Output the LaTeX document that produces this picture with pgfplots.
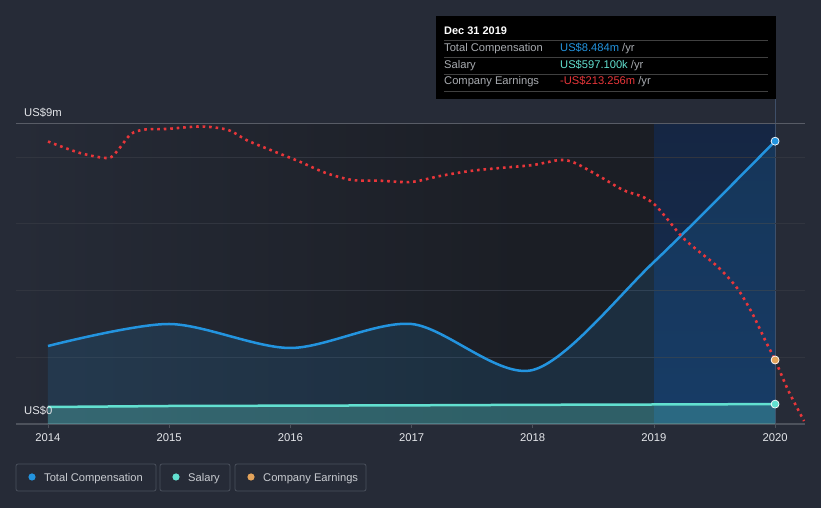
\documentclass[border=0pt]{standalone}
\usepackage{pgfplots}
\pgfplotsset{compat=1.18}
\usepackage{fontspec}
\setmainfont{Liberation Sans}
\definecolor{bg}{HTML}{262B37}
\definecolor{darkbg}{HTML}{1B1E25}
\definecolor{band1}{HTML}{152643}
\definecolor{band2}{HTML}{162E52}
\definecolor{comp}{HTML}{2394DF}
\definecolor{sal}{HTML}{62E0D0}
\definecolor{earn}{HTML}{E8363A}
\definecolor{earnmk}{HTML}{E3A35B}
\definecolor{gridc}{HTML}{31353F}
\definecolor{axisc}{HTML}{4D525C}
\definecolor{topc}{HTML}{585C66}
\definecolor{txt}{HTML}{E4E6EA}
\definecolor{lab}{HTML}{A8ABB0}
\definecolor{legtxt}{HTML}{C8CBD0}
\definecolor{legbox}{HTML}{4A505C}

\pgfplotstableread{
x y
2014 2.34
2015 3.00
2016 2.28
2017 3.00
2018 1.62
2019 4.86
2020 8.484
}\comp
\pgfplotstableread{
x y
2014 0.51
2015 0.54
2016 0.55
2017 0.56
2018 0.575
2019 0.585
2020 0.597
}\sal
\pgfplotstableread{
x y
2014.000 8.475
2014.264 8.13
2014.495 7.98
2014.578 8.22
2014.685 8.70
2014.801 8.835
2014.974 8.85
2015.263 8.925
2015.486 8.82
2015.648 8.50
2015.857 8.19
2016.077 7.87
2016.286 7.54
2016.509 7.32
2016.732 7.30
2016.996 7.26
2017.235 7.44
2017.483 7.59
2017.730 7.68
2018.003 7.77
2018.226 7.92
2018.349 7.83
2018.556 7.42
2018.746 7.02
2018.911 6.81
2019.010 6.57
2019.117 6.12
2019.233 5.61
2019.356 5.22
2019.529 4.71
2019.686 4.08
2019.810 3.33
2019.917 2.52
2020.000 1.92
2020.107 1.02
2020.239 0.09
}\earn

\begin{document}
\begin{tikzpicture}[x=1bp,y=1bp]
\fill[bg] (0,0) rectangle (821,508);
\shade[left color=bg, right color=darkbg] (16,84) rectangle (520,384);
\fill[darkbg] (520,84) rectangle (654,384);
\shade[top color=band1, bottom color=band2] (654,84) rectangle (775,384);
\draw[color=band2!80!white!90!black, line width=0.8bp] (775,84) -- (775,409);

\begin{axis}[
  at={(16bp,84bp)}, anchor=south west,
  scale only axis, width=789bp, height=300bp,
  xmin=2013.736, xmax=2020.247, ymin=0, ymax=9,
  axis line style={draw=none},
  clip=false,
  ytick={2,4,6,8}, yticklabels={},
  ymajorgrids, major grid style={color=gridc, line width=1bp},
  y tick style={draw=none},
  xtick={2014,2015,2016,2017,2018,2019,2020},
  xtick pos=lower,
  x tick style={color=axisc, line width=0.8bp},
  tick align=outside, major tick length=4bp,
  xticklabel style={font=\fontsize{11.3}{12}\selectfont, text=txt, anchor=base, yshift=-14bp},
  /pgf/number format/1000 sep={},
  /pgf/number format/assume math mode=true,
]
\draw[color=topc, line width=1bp] (axis cs:2013.736,9) -- (axis cs:2020.247,9);
\draw[color=axisc, line width=1.2bp] (axis cs:2013.736,0) -- (axis cs:2020.247,0);

\addplot[draw=none, fill=comp, fill opacity=0.14, smooth] table[x=x,y=y] {\comp} \closedcycle;
\addplot[draw=none, fill=sal, fill opacity=0.28] table[x=x,y=y] {\sal} \closedcycle;
\addplot[color=sal, line width=2.5bp] table[x=x,y=y] {\sal};
\addplot[color=comp, line width=2.5bp, smooth] table[x=x,y=y] {\comp};
\addplot[color=earn, line width=2.6bp, smooth, dash pattern=on 2.6bp off 3.9bp] table[x=x,y=y] {\earn};

\addplot[only marks, mark=*, mark size=4bp, mark options={fill=comp, draw=white, line width=0.7bp}] coordinates {(2020,8.484)};
\addplot[only marks, mark=*, mark size=4bp, mark options={fill=sal, draw=white, line width=0.7bp}] coordinates {(2020,0.597)};
\addplot[only marks, mark=*, mark size=4bp, mark options={fill=earnmk, draw=white, line width=0.7bp}] coordinates {(2020,1.92)};
\end{axis}

% y labels
\node[anchor=base west, inner sep=0, text=txt, font=\fontsize{11.3}{12}\selectfont] at (24,391) {US\$9m};
\node[anchor=base west, inner sep=0, text=txt, font=\fontsize{11.3}{12}\selectfont] at (24,93) {US\$0};

% tooltip
\fill[black] (436,409) rectangle (776,492);
\node[anchor=base west, inner sep=0, text=white, font=\fontsize{11}{12}\selectfont\bfseries] at (444,473) {Dec 31 2019};
\foreach \yy in {467.3,450.7,433.7,417} \draw[color=white!25!black, line width=0.8bp] (444,\yy) -- (768,\yy);
\begin{scope}[every node/.style={anchor=base west, inner sep=0, font=\fontsize{11.2}{12}\selectfont}]
\node[text=lab] at (444,456.3) {Total Compensation};
\node[text=lab] at (444,439.7) {Salary};
\node[text=lab] at (444,423) {Company Earnings};
\node at (560,456.3) {\textcolor{comp}{US\$8.484m} \textcolor{lab}{/yr}};
\node at (560,439.7) {\textcolor{sal}{US\$597.100k} \textcolor{lab}{/yr}};
\node at (560,423) {\textcolor{earn}{-US\$213.256m} \textcolor{lab}{/yr}};
\end{scope}

% legend
\draw[legbox, line width=0.8bp, rounded corners=2bp] (16,17) rectangle (156,44);
\draw[legbox, line width=0.8bp, rounded corners=2bp] (160,17) rectangle (230,44);
\draw[legbox, line width=0.8bp, rounded corners=2bp] (235,17) rectangle (366,44);
\fill[comp] (32,31) circle (3.6bp);
\fill[sal] (176,31) circle (3.6bp);
\fill[earnmk] (251,31) circle (3.6bp);
\begin{scope}[every node/.style={anchor=base west, inner sep=0, text=legtxt, font=\fontsize{11.2}{12}\selectfont}]
\node at (44,26.5) {Total Compensation};
\node at (188,26.5) {Salary};
\node at (263,26.5) {Company Earnings};
\end{scope}
\end{tikzpicture}
\end{document}
